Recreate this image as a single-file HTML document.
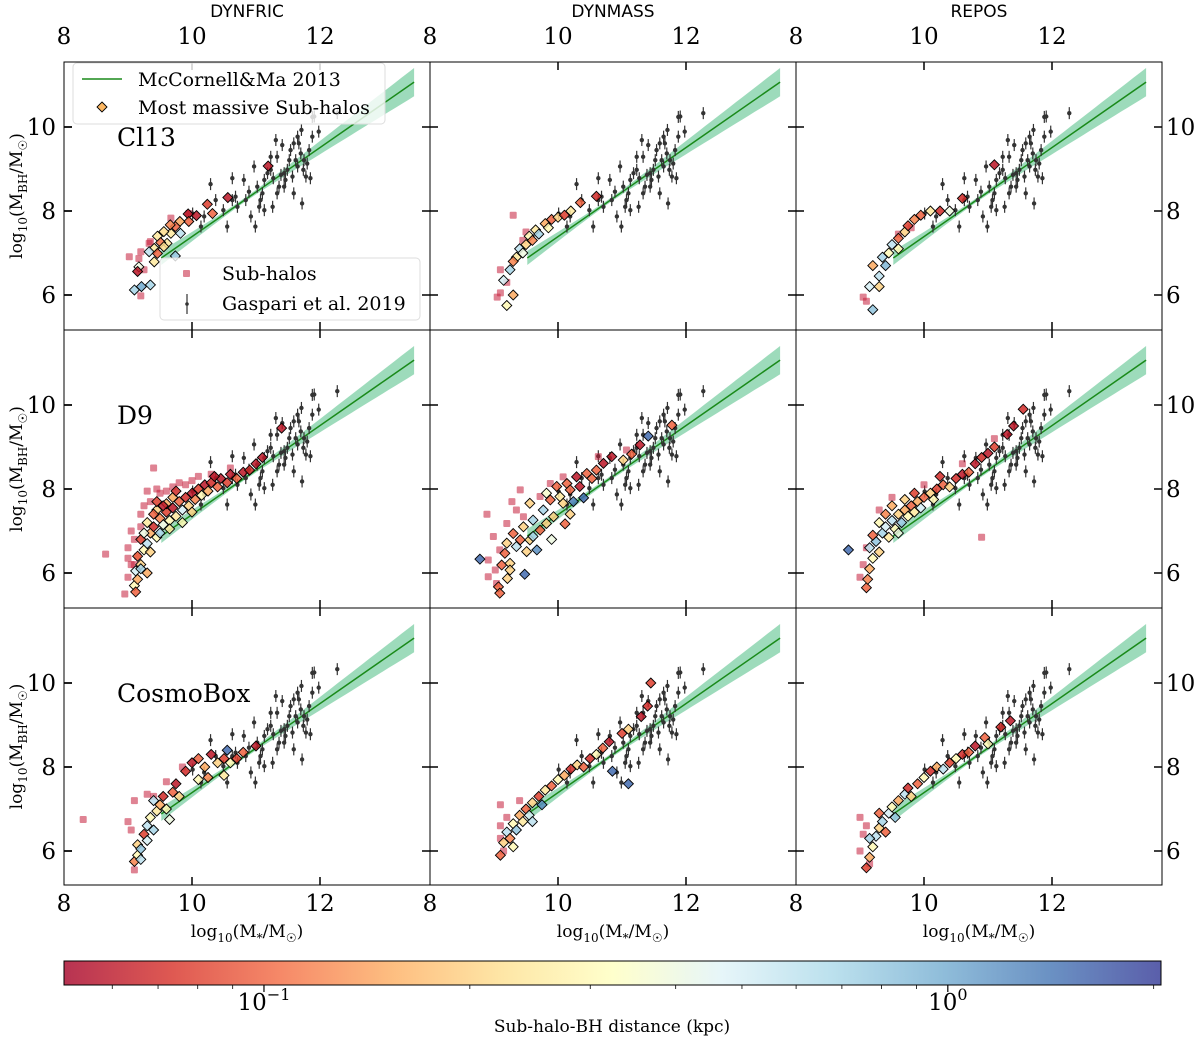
<!DOCTYPE html>
<html><head><meta charset="utf-8"><style>
html,body{margin:0;padding:0;background:#fff;}
svg{display:block;}
</style></head><body>
<svg id="fig" width="1200" height="1040" xmlns="http://www.w3.org/2000/svg" font-family="'DejaVu Serif','Liberation Serif',serif"></svg>
<script>
// ---- data ----
const colTitles = ["DYNFRIC","DYNMASS","REPOS"];
const rowLabels = ["Cl13","D9","CosmoBox"];
const xTicks = [8,10,12];
const yTicks = [6,8,10];
const gaspariX = [10.01,10.29,10.37,10.55,10.63,10.68,10.71,10.84,10.89,10.97,10.99,11.02,11.10,11.13,11.18,11.23,11.26,11.27,11.31,11.33,11.36,11.39,11.41,11.44,11.46,11.49,11.52,11.54,11.57,11.59,11.62,11.65,11.67,11.70,11.71,11.72,11.74,11.75,11.78,11.83,11.85,11.88,11.91,11.98,10.49,10.19,10.14,10.63,10.92,11.05,11.13,11.44,11.59,11.65,11.80,11.33,11.23,11.07,10.81,12.27,11.88];
const gaspariY = [7.94,8.64,8.26,7.63,8.78,8.34,8.10,8.26,8.46,9.06,7.63,8.58,8.42,8.02,8.90,9.29,8.10,8.78,9.69,9.29,8.58,8.86,9.57,8.58,8.74,8.98,9.21,9.45,8.82,8.42,9.21,9.77,9.61,9.37,9.93,8.18,8.98,9.21,8.82,9.45,8.78,9.77,10.25,9.89,8.02,7.87,7.63,8.26,7.87,8.10,8.74,8.90,9.61,9.06,9.13,8.42,8.98,8.26,8.74,10.33,10.24];
const mcmaX = [9.52,13.47];
const mcmaSlope = 1.06, mcmaAt10 = 7.39;
// panels: [row][col] diamonds [x,y,dist] and squares [x,y]
const diamonds = [
 [
  [[11.19,9.07,0.06],[10.56,8.32,0.06],[10.24,8.16,0.08],[10.32,7.94,0.1],[10.07,7.89,0.06],[9.94,7.93,0.06],[9.95,7.75,0.1],[9.81,7.75,0.15],[9.74,7.63,0.1],[9.67,7.47,0.25],[9.82,7.47,0.6],[9.56,7.51,0.22],[9.46,7.40,0.25],[9.61,7.23,0.25],[9.51,7.25,0.11],[9.41,7.11,0.25],[9.33,7.03,0.6],[9.46,6.99,0.1],[9.56,7.15,0.22],[9.41,6.79,0.25],[9.74,6.93,0.8],[9.17,6.67,0.4],[9.15,6.56,0.06],[9.21,6.20,1.0],[9.10,6.12,0.7],[9.35,6.24,0.7],[9.66,7.67,0.12]],
  [[9.2,5.75,0.3],[9.3,6.0,0.15],[9.15,6.35,0.5],[9.25,6.6,0.7],[9.35,6.9,0.25],[9.4,7.1,0.6],[9.5,7.2,0.2],[9.55,7.4,0.3],[9.6,7.3,0.12],[9.65,7.55,0.25],[9.7,7.45,0.7],[9.8,7.7,0.15],[9.85,7.6,0.3],[9.9,7.8,0.1],[10.0,7.85,0.2],[10.1,7.9,0.08],[10.2,8.0,0.25],[10.35,8.2,0.1],[10.6,8.35,0.07],[9.45,7.0,0.4],[9.3,6.8,0.12]],
  [[9.2,5.65,0.8],[9.15,6.2,0.5],[9.3,6.45,0.6],[9.2,6.7,0.15],[9.35,6.9,0.7],[9.45,7.0,0.3],[9.5,7.2,0.6],[9.6,7.35,0.1],[9.7,7.5,0.2],[9.75,7.65,0.08],[9.85,7.8,0.12],[9.95,7.9,0.1],[10.1,8.0,0.25],[10.25,8.0,0.07],[10.4,8.0,0.4],[10.6,8.3,0.07],[11.1,9.1,0.06],[9.4,6.7,0.9],[9.6,7.1,0.3],[9.3,6.2,0.2]]
 ],
 [
  [[9.10,5.70,0.3],[9.15,5.85,0.15],[9.12,6.05,0.5],[9.20,6.20,0.2],[9.15,6.40,0.1],[9.25,6.55,0.3],[9.20,6.80,0.08],[9.30,6.70,0.6],[9.35,6.95,0.15],[9.30,7.20,0.25],[9.40,7.10,0.07],[9.45,6.85,0.3],[9.50,7.30,0.12],[9.45,7.50,0.2],[9.55,7.15,0.4],[9.60,7.45,0.08],[9.65,7.25,0.3],[9.60,7.65,0.15],[9.70,7.55,0.06],[9.75,7.35,0.25],[9.80,7.70,0.1],[9.85,7.50,0.5],[9.90,7.80,0.07],[9.95,7.60,0.2],[10.00,7.90,0.06],[10.05,7.75,0.12],[10.10,8.00,0.08],[10.15,7.85,0.3],[10.20,8.10,0.06],[10.25,7.95,0.15],[10.30,8.15,0.07],[10.40,8.05,0.1],[10.45,8.25,0.06],[10.55,8.15,0.08],[10.60,8.35,0.06],[10.70,8.25,0.1],[10.80,8.40,0.06],[10.90,8.45,0.07],[11.00,8.60,0.06],[11.10,8.75,0.06],[11.40,9.45,0.06],[9.35,6.50,0.2],[9.25,6.95,0.4],[9.40,7.40,0.1],[9.55,7.60,0.06],[9.70,7.80,0.15],[9.50,6.95,0.7],[9.65,7.05,0.25],[9.20,6.10,0.7],[9.30,6.00,0.15],[9.75,7.95,0.07],[9.85,7.20,0.3],[10.0,7.45,0.2],[9.45,7.7,0.08],[10.35,8.3,0.06],[9.12,5.55,0.1]],
  [[8.78,6.33,1.5],[9.48,5.97,1.5],[9.07,5.67,0.1],[9.09,5.52,0.1],[9.21,5.87,0.2],[9.12,6.19,0.1],[9.25,6.23,0.2],[9.35,6.63,0.6],[9.51,6.51,0.2],[9.67,6.55,1.2],[9.90,6.80,0.4],[10.11,7.17,0.1],[10.19,7.40,0.2],[10.40,7.79,1.5],[10.24,7.70,1.3],[9.56,7.66,0.2],[9.77,7.50,0.7],[9.82,7.90,0.35],[9.98,8.06,0.1],[10.14,8.13,0.1],[10.29,8.29,0.06],[10.45,8.37,0.1],[10.60,8.45,0.1],[10.71,8.61,0.06],[10.84,8.77,0.06],[11.02,8.69,0.2],[11.15,8.83,0.1],[11.28,9.05,0.06],[11.41,9.26,1.5],[11.78,9.52,0.1],[9.30,6.94,0.1],[9.46,7.10,0.2],[9.61,7.26,0.7],[9.20,6.71,0.2],[9.72,7.02,0.1],[9.93,7.34,0.2],[10.08,7.66,0.2],[9.88,7.74,0.1],[9.41,6.79,0.1],[9.17,6.47,0.1],[9.56,6.79,0.2],[9.82,7.18,0.2],[10.03,7.82,0.25],[10.19,7.98,0.1],[10.34,8.06,0.06],[10.53,8.25,0.1],[9.61,6.87,0.7],[9.25,6.07,0.2]],
  [[8.82,6.55,1.5],[9.1,5.65,0.1],[9.12,5.85,0.12],[9.15,6.1,0.15],[9.2,6.35,0.3],[9.15,6.6,0.6],[9.25,6.75,0.8],[9.3,6.5,0.2],[9.35,6.95,0.7],[9.4,7.1,0.5],[9.45,6.85,0.25],[9.5,7.25,0.6],[9.55,7.05,0.3],[9.6,7.4,0.2],[9.65,7.2,0.8],[9.7,7.5,0.15],[9.75,7.35,0.3],[9.8,7.6,0.1],[9.85,7.45,0.25],[9.9,7.7,0.15],[9.95,7.55,0.5],[10.0,7.8,0.1],[10.1,7.9,0.2],[10.15,7.75,0.3],[10.2,8.0,0.08],[10.3,8.1,0.1],[10.4,8.05,0.2],[10.5,8.25,0.07],[10.6,8.35,0.06],[10.7,8.4,0.1],[10.8,8.6,0.06],[10.9,8.75,0.07],[11.0,8.85,0.06],[11.1,9.0,0.08],[11.3,9.3,0.06],[11.4,9.5,0.06],[11.55,9.9,0.07],[9.6,6.95,0.4],[9.3,7.2,0.3],[9.4,7.4,0.12],[9.2,6.9,0.1],[10.25,8.3,0.07],[9.5,7.6,0.15],[9.7,7.75,0.2],[9.85,7.9,0.08]]
 ],
 [
  [[9.1,5.75,0.12],[9.15,5.9,0.3],[9.2,5.8,0.6],[9.15,6.15,0.2],[9.25,6.4,0.08],[9.3,6.6,0.6],[9.35,6.8,0.3],[9.4,6.5,0.7],[9.45,6.95,0.25],[9.5,7.1,0.15],[9.3,6.25,0.5],[9.6,7.0,0.3],[9.55,7.3,0.07],[9.7,7.4,0.1],[9.75,7.6,0.06],[9.8,7.3,0.2],[9.9,7.9,0.07],[10.0,8.1,0.06],[10.1,8.2,0.1],[10.2,8.0,0.15],[10.3,8.3,0.06],[10.4,8.1,0.2],[10.5,8.2,0.08],[10.6,8.1,0.3],[10.7,8.2,0.08],[10.8,8.35,0.1],[11.0,8.5,0.06],[10.1,7.7,0.3],[10.5,7.8,0.25],[10.55,8.4,1.5],[9.65,6.75,0.4],[9.4,7.2,0.6],[10.25,7.75,0.12],[9.2,6.05,0.8]],
  [[9.1,5.9,0.1],[9.15,6.2,0.2],[9.2,6.45,0.6],[9.25,6.3,0.12],[9.3,6.65,0.3],[9.35,6.5,0.8],[9.4,6.85,0.15],[9.45,6.7,0.25],[9.5,7.0,0.1],[9.55,6.85,0.5],[9.6,7.15,0.2],[9.7,7.3,0.08],[9.75,7.1,1.2],[9.8,7.45,0.25],[9.9,7.55,0.1],[10.0,7.7,0.3],[10.1,7.8,0.15],[10.2,7.95,0.07],[10.3,8.05,0.2],[10.4,8.0,0.1],[10.5,8.2,0.07],[10.6,8.3,0.3],[10.7,8.45,0.1],[10.8,8.6,0.06],[11.0,8.8,0.08],[11.1,8.9,0.2],[11.3,9.2,0.06],[11.4,9.45,0.07],[11.45,10.0,0.08],[10.85,7.9,1.5],[11.1,7.6,1.5],[9.3,6.1,0.3],[9.6,6.7,0.6]],
  [[9.1,5.6,0.08],[9.15,5.85,0.15],[9.2,6.1,0.3],[9.25,6.35,0.6],[9.3,6.55,0.2],[9.35,6.7,0.7],[9.4,6.45,0.1],[9.45,6.9,0.5],[9.5,7.05,0.3],[9.55,6.8,0.8],[9.6,7.2,0.15],[9.7,7.35,0.6],[9.75,7.5,0.07],[9.8,7.3,0.2],[9.9,7.6,0.1],[10.0,7.75,0.3],[10.1,7.9,0.07],[10.2,8.0,0.15],[10.3,7.95,0.6],[10.4,8.1,0.08],[10.5,8.2,0.3],[10.6,8.3,0.07],[10.7,8.35,0.1],[10.8,8.5,0.06],[10.95,8.7,0.1],[11.0,8.55,0.3],[11.2,8.95,0.07],[11.35,9.1,0.06],[9.15,6.3,0.7],[9.3,6.9,0.1]]
 ]
];
const squares = [
 [
  [[9.67,7.83],[9.33,7.23],[9.20,7.03],[9.02,6.91],[9.17,6.87],[9.25,6.60],[9.20,5.98],[9.95,7.94],[9.35,7.27]],
  [[9.1,6.05],[9.05,5.95],[9.2,6.3],[9.3,7.9],[9.45,7.3],[9.5,7.5],[9.1,6.6]],
  [[9.05,5.95],[9.1,5.85],[9.6,7.45],[9.8,7.6]]
 ],
 [
  [[8.65,6.45],[8.95,5.5],[9.0,5.9],[9.05,6.2],[9.0,6.6],[9.05,7.0],[9.1,6.8],[9.2,7.1],[9.2,7.4],[9.35,7.7],[9.4,8.5],[9.3,7.95],[9.5,7.9],[9.6,7.95],[9.7,8.05],[9.8,8.15],[9.9,8.1],[10.0,8.2],[10.1,8.3],[9.15,6.4],[9.25,7.6],[9.1,6.2],[9.45,8.0],[10.3,8.35],[10.6,8.5],[9.0,6.35]],
  [[8.89,7.40],[8.91,6.31],[8.91,5.91],[8.99,6.87],[9.41,7.98],[9.28,7.70],[9.09,6.55],[9.20,7.18],[9.46,7.34],[9.72,7.82],[9.88,8.13],[10.08,8.29],[10.63,8.77],[11.07,8.93],[9.04,5.75],[9.02,6.07],[9.35,7.50]],
  [[9.0,5.9],[9.05,6.2],[9.1,6.6],[9.3,7.5],[10.6,8.6],[11.1,9.2],[10.9,6.85],[9.5,7.8],[10.0,8.1]]
 ],
 [
  [[8.3,6.75],[9.0,6.7],[9.05,6.5],[9.1,7.2],[9.3,7.35],[9.4,7.3],[9.1,5.55],[9.6,7.65],[9.85,8.0]],
  [[9.1,6.6],[9.1,6.3],[9.15,6.0],[9.2,6.8],[9.1,7.1],[9.4,7.2]],
  [[9.0,6.0],[9.05,6.4],[9.1,6.6],[9.0,6.8],[9.15,5.7]]
 ]
];
const cbMajor = [0.1, 1];
const cbMinor = [0.06,0.07,0.08,0.09,0.2,0.3,0.4,0.5,0.6,0.7,0.8,0.9,2];

// ---- geometry ----
const NS="http://www.w3.org/2000/svg";
const svg=document.getElementById('fig');
const colL=[64,430,796], W=366;
const rowT=[62,330,608], rowB=[330,608,885];
const y10=[127,405,683];
const PX=64, PY=42;
const xs=(c,v)=>colL[c]+(v-8)*PX;
const ys=(r,v)=>y10[r]-(v-10)*PY;
const cbL=64, cbR=1161, cbT=961, cbB=985;
const dMin=Math.log10(0.051), dMax=Math.log10(2.05);
const cbx=d=>cbL+(Math.log10(d)-dMin)/(dMax-dMin)*(cbR-cbL);
const stops=["#a50026","#d73027","#f46d43","#fdae61","#fee090","#ffffbf","#e0f3f8","#abd9e9","#74add1","#4575b4","#313695"];
function hex(h){return [1,3,5].map(i=>parseInt(h.substr(i,2),16));}
function cmap(d){let t=(Math.log10(d)-dMin)/(dMax-dMin);t=Math.max(0,Math.min(1,t));
 const f=t*(stops.length-1), i=Math.min(stops.length-2,Math.floor(f)), u=f-i;
 const a=hex(stops[i]), b=hex(stops[i+1]);
 return 'rgb('+a.map((v,k)=>Math.round(v+(b[k]-v)*u)).join(',')+')';}
function el(tag,attrs,parent){const e=document.createElementNS(NS,tag);for(const k in attrs)e.setAttribute(k,attrs[k]);(parent||svg).appendChild(e);return e;}

const defs=el('defs',{});
for(let r=0;r<3;r++)for(let c=0;c<3;c++){
 const cp=el('clipPath',{id:'cp'+r+c},defs);
 el('rect',{x:colL[c],y:rowT[r],width:W,height:rowB[r]-rowT[r]},cp);
}
const grad=el('linearGradient',{id:'cbg',x1:0,x2:1,y1:0,y2:0},defs);
stops.forEach((s,i)=>el('stop',{offset:i/(stops.length-1),'stop-color':s},grad));

for(let r=0;r<3;r++)for(let c=0;c<3;c++){
 const g=el('g',{'clip-path':'url(#cp'+r+c+')'});
 
 
 // band
 let top=[],bot=[];
 for(let k=0;k<=40;k++){const x=mcmaX[0]+(mcmaX[1]-mcmaX[0])*k/40;const y=mcmaAt10+mcmaSlope*(x-10);
  const hw=Math.sqrt(0.05*0.05+Math.pow(0.125*(x-10.8),2));
  top.push(xs(c,x).toFixed(1)+','+ys(r,y+hw).toFixed(1));bot.unshift(xs(c,x).toFixed(1)+','+ys(r,y-hw).toFixed(1));}
 const band=el('polygon',{points:top.concat(bot).join(' '),fill:'#3cb878','fill-opacity':0.5},g);
 
 
 const ln=el('line',{x1:xs(c,mcmaX[0]),y1:ys(r,mcmaAt10+mcmaSlope*(mcmaX[0]-10)),x2:xs(c,mcmaX[1]),y2:ys(r,mcmaAt10+mcmaSlope*(mcmaX[1]-10)),stroke:'#1a8a1a','stroke-width':1.5},g);
 
 
 // gaspari
 gaspariX.forEach((gx,i)=>{const px=xs(c,gx),py=ys(r,gaspariY[i]);
  el('line',{x1:px,y1:py-6,x2:px,y2:py+6,stroke:'#333','stroke-width':1.2},g);
  const p=el('circle',{cx:px,cy:py,r:2.2,fill:'#333'},g);
  
  });
 // squares
 squares[r][c].forEach(s=>{const px=xs(c,s[0]),py=ys(r,s[1]);
  const q=el('rect',{x:px-3.5,y:py-3.5,width:7,height:7,rx:1,fill:'#c41e3a','fill-opacity':0.55},g);
  
  });
 // diamonds
 diamonds[r][c].forEach(s=>{const px=xs(c,s[0]),py=ys(r,s[1]);
  const dm=el('polygon',{points:(px)+','+(py-5)+' '+(px+5)+','+py+' '+px+','+(py+5)+' '+(px-5)+','+py,fill:cmap(s[2]),'fill-opacity':0.85,stroke:'#000','stroke-width':0.9},g);
  
  });
 // frame
 el('rect',{x:colL[c],y:rowT[r],width:W,height:rowB[r]-rowT[r],fill:'none',stroke:'#000','stroke-width':1});
 // ticks
 xTicks.forEach(t=>{const px=xs(c,t);if(px<=colL[c]+1)return;
  el('line',{x1:px,y1:rowT[r],x2:px,y2:rowT[r]+8,stroke:'#000','stroke-width':1.5});
  el('line',{x1:px,y1:rowB[r],x2:px,y2:rowB[r]-8,stroke:'#000','stroke-width':1.5});});
 yTicks.forEach(t=>{const py=ys(r,t);
  el('line',{x1:colL[c],y1:py,x2:colL[c]+8,y2:py,stroke:'#000','stroke-width':1.5});
  el('line',{x1:colL[c]+W,y1:py,x2:colL[c]+W-8,y2:py,stroke:'#000','stroke-width':1.5});});
}
// outer tick stubs (out of left/right edges)
for(let r=0;r<3;r++)yTicks.forEach(t=>{const py=ys(r,t);
 el('line',{x1:colL[0]-0,y1:py,x2:colL[0]+8,y2:py,stroke:'#000','stroke-width':1.5});});

function txt(s,x,y,attrs,name){const t=el('text',Object.assign({x:x,y:y},attrs));t.textContent=s;
 return t;}
// tick labels
for(let c=0;c<3;c++){xTicks.forEach(t=>{
 txt(String(t),xs(c,t),44,{'font-size':23,'text-anchor':'middle'},'top-x-tick-label');
 txt(String(t),xs(c,t),911,{'font-size':23,'text-anchor':'middle'},'x-tick-label');});
 txt(colTitles[c],colL[c]+W/2,17,{'font-size':17,'text-anchor':'middle','font-family':"'DejaVu Sans','Liberation Sans',sans-serif"},'column-title');
 const xl=txt('',colL[c]+W/2,937,{'font-size':17,'text-anchor':'middle'},'x-axis-title');
 xl.innerHTML='log<tspan font-size="12" dy="5">10</tspan><tspan dy="-5">(M</tspan><tspan font-size="12" dy="5">*</tspan><tspan dy="-5">/M</tspan><tspan font-size="12" dy="5">☉</tspan><tspan dy="-5">)</tspan>';
}
for(let r=0;r<3;r++){
 yTicks.forEach(t=>{txt(String(t),56,ys(r,t)+8,{'font-size':23,'text-anchor':'end'},'y-tick-label');
  txt(String(t),1166,ys(r,t)+8,{'font-size':23,'text-anchor':'start'},'right-y-tick-label');});
 const cy=(rowT[r]+rowB[r])/2;
 const yl=txt('',0,0,{'font-size':17,'text-anchor':'middle',transform:'translate(22,'+cy+') rotate(-90)'},'y-axis-title');
 yl.innerHTML='log<tspan font-size="12" dy="5">10</tspan><tspan dy="-5">(M</tspan><tspan font-size="12" dy="5">BH</tspan><tspan dy="-5">/M</tspan><tspan font-size="12" dy="5">☉</tspan><tspan dy="-5">)</tspan>';
 txt(rowLabels[r],117,y10[r]+19,{'font-size':25},'simulation-label');
}
// legends
const lg1=el('g',{});
el('rect',{x:73,y:63,width:312,height:61,rx:4,fill:'#fff','fill-opacity':0.8,stroke:'#ddd'},lg1);
el('line',{x1:82,y1:79,x2:122,y2:79,stroke:'#1a8a1a','stroke-width':1.5},lg1);
txt('McCornell&Ma 2013',138,86,{'font-size':19},'legend-entry-mcconnell');
el('polygon',{points:'102,102 107,107 102,112 97,107',fill:'#fdb863',stroke:'#000','stroke-width':0.9},lg1);
txt('Most massive Sub-halos',138,114,{'font-size':19},'legend-entry-most-massive');
const lg2=el('g',{});
el('rect',{x:160,y:258,width:260,height:62,rx:4,fill:'#fff','fill-opacity':0.8,stroke:'#ddd'},lg2);
el('rect',{x:183,y:270,width:7,height:7,rx:1,fill:'#c41e3a','fill-opacity':0.55},lg2);
txt('Sub-halos',222,280,{'font-size':19},'legend-entry-sub-halos');
el('line',{x1:187,y1:294,x2:187,y2:314,stroke:'#333','stroke-width':1.2},lg2);
el('circle',{cx:187,cy:304,r:1.8,fill:'#333'},lg2);
txt('Gaspari et al. 2019',222,310,{'font-size':19},'legend-entry-gaspari');
// colorbar
const cb=el('rect',{x:cbL,y:cbT,width:cbR-cbL,height:cbB-cbT,fill:'url(#cbg)','fill-opacity':0.8,stroke:'#000','stroke-width':1});

cbMinor.forEach(d=>{const x=cbx(d);el('line',{x1:x,y1:cbB,x2:x,y2:cbB+4,stroke:'#000','stroke-width':0.8});});
cbMajor.forEach(d=>{const x=cbx(d);el('line',{x1:x,y1:cbB,x2:x,y2:cbB+7,stroke:'#000','stroke-width':1.2});
 const t=txt('',x,1010,{'font-size':23,'text-anchor':'middle'},'colorbar-tick-label');
 t.innerHTML='10<tspan font-size="16" dy="-10">'+(d===1?'0':'−1')+'</tspan>';});
txt('Sub-halo-BH distance (kpc)',612,1032,{'font-size':17,'text-anchor':'middle'},'colorbar-title');
</script>
</body></html>
